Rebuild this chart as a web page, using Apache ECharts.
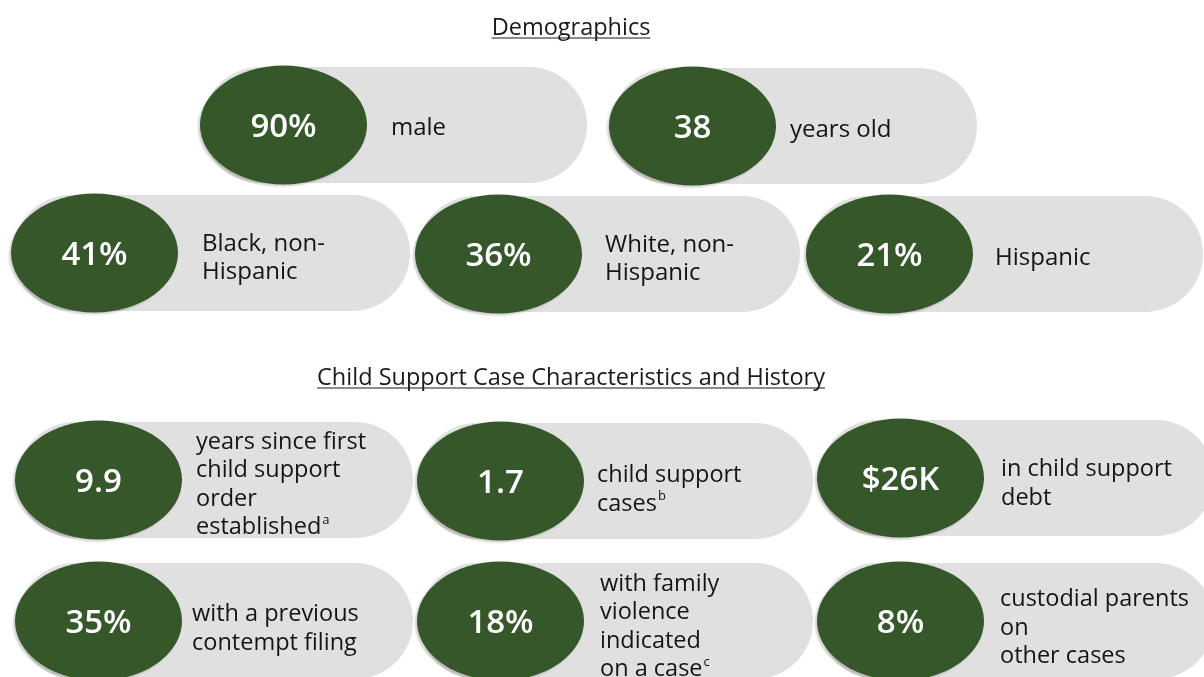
<!DOCTYPE html>
<html>
<head>
<meta charset="utf-8">
<title>Demographics and case history</title>
<script src="https://cdn.jsdelivr.net/npm/echarts@6/dist/echarts.min.js"></script>
<style>
html,body{margin:0;padding:0;background:#fff;}
#main{width:1204px;height:677px;}
</style>
</head>
<body>
<div id="main"></div>
<script>
// data
var sections=['Demographics','Child Support Case Characteristics and History'];
var values=['90%','38','41%','36%','21%','9.9','1.7','$26K','35%','18%','8%'];
var labels=[
	'male',
	'years old',
	'Black, non-\nHispanic',
	'White, non-\nHispanic',
	'Hispanic',
	'years since first\nchild support\norder\nestablished',
	'child support\ncases',
	'in child support\ndebt',
	'with a previous\ncontempt filing',
	'with family\nviolence\nindicated\non a case',
	'custodial parents\non\nother cases'
];
var notes=['','','','','','a','b','','','c',''];   //上标

// layout (pixel space of the 1204x677 axes)
var pillLeft=[200,609,11,415,806,15,417,817,15,417,817];
var pillRight=[587,977,410,800,1203,413,813,1214,413,813,1214];
var pillMid=[125,126,253,254,254,480,481,478,621,621,621];
var labelLeft=[391,790,202,605,995,196,597,1001,192,600,1000];
var labelMid=[128,130,258,259,258,485,490,484,629,627,628];
var labelSize=[24,24,24,24,24,23.5,23.5,23.5,23.5,23.5,23.5];
var titleMid=[28,378];

var GREEN='#36572a',GRAY='#e0e0e0';
var FONT='"Open Sans", Lato, sans-serif';

function richText(txt,note){
	var lines=txt.split('\n').map(function(l){return '{t|'+l+'}';});
	if(note){
		lines[lines.length-1]+='{s|'+note+'}';
	}
	return lines.join('\n');
}

function renderItem(params,api){
	var i=params.dataIndex;
	var p0=api.coord([pillLeft[i],pillMid[i]]);
	var p1=api.coord([pillRight[i],pillMid[i]]);
	var h=api.size([0,116])[1];
	var rx=api.size([167,0])[0]/2;
	var ry=api.size([0,119])[1]/2;
	var lp=api.coord([labelLeft[i],labelMid[i]]);
	return {
		type:'group',
		children:[
			{
				type:'rect',
				shape:{x:p0[0]+2,y:p0[1]-h/2,width:p1[0]-p0[0]-2,height:h,r:h/2},
				style:{fill:GRAY}
			},
			{
				type:'ellipse',
				shape:{cx:p0[0]+rx,cy:p0[1],rx:rx,ry:ry},
				style:{fill:GREEN,shadowColor:'rgba(0,0,0,0.18)',shadowBlur:2,shadowOffsetX:-2,shadowOffsetY:2}
			},
			{
				type:'text',
				style:{
					text:api.value(2),x:p0[0]+rx,y:p0[1]+3,
					align:'center',verticalAlign:'middle',
					fill:'#fff',fontSize:33,fontWeight:600,fontFamily:FONT
				}
			},
			{
				type:'text',
				style:{
					text:richText(labels[i],notes[i]),x:lp[0],y:lp[1],
					align:'left',verticalAlign:'middle',
					rich:{
						t:{fontSize:labelSize[i],lineHeight:28.5,fill:'#151515',fontFamily:FONT},
						s:{fontSize:13,lineHeight:28.5,fill:'#151515',fontFamily:FONT,verticalAlign:'top',padding:[0,0,10,1]}
					}
				}
			}
		]
	};
}

var chart=echarts.init(document.getElementById('main'));

// 标题下划线宽度
var ctx=document.createElement('canvas').getContext('2d');
ctx.font='23.5px '+FONT;
var graphics=[];
sections.forEach(function(s,k){
	var w=ctx.measureText(s).width;
	graphics.push({
		type:'text',x:571,y:titleMid[k],
		style:{text:s,align:'center',verticalAlign:'middle',fontSize:23.5,fontFamily:FONT,fill:'#1a1a1a'}
	});
	graphics.push({
		type:'line',
		shape:{x1:571-w/2,y1:titleMid[k]+10,x2:571+w/2,y2:titleMid[k]+10},
		style:{stroke:'#1a1a1a',lineWidth:1.2}
	});
});

chart.setOption({
	animation:false,
	grid:{left:0,right:0,top:0,bottom:0},
	xAxis:{type:'value',min:0,max:1204,show:false},
	yAxis:{type:'value',min:0,max:677,inverse:true,show:false},
	graphic:graphics,
	series:[{
		type:'custom',
		renderItem:renderItem,
		data:values.map(function(v,i){return [pillLeft[i],pillMid[i],v];}),
		clip:false
	}]
});
</script>
</body>
</html>
